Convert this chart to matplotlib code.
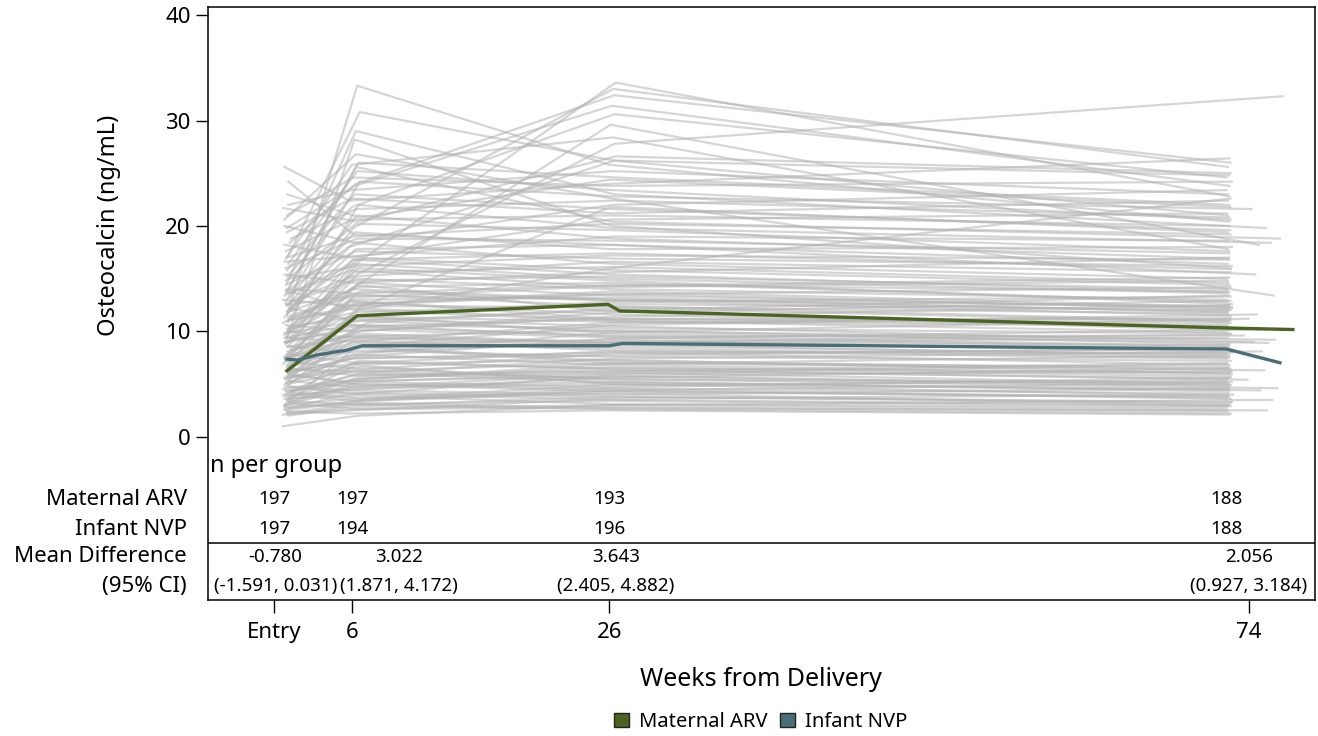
import matplotlib.pyplot as plt
from matplotlib.patches import Patch

plt.rcParams['font.family'] = ['Noto Sans', 'DejaVu Sans']

# individual trajectories: visit times (weeks) and osteocalcin values (ng/mL)
t_entry = [1.0, 0.8, 0.7, 1.2, 0.9, 1.1, 1.3, 0.8, 1.0, 0.9,
           1.2, 0.7, 1.1, 0.9, 1.0, 1.3, 0.8, 1.2, 1.0, 0.9,
           0.8, 1.1, 1.0, 1.2, 0.7, 0.9, 1.3, 1.0, 0.8, 1.1,
           1.0, 1.2, 0.9, 0.8, 1.1, 1.0, 0.7, 1.3, 0.9, 1.0,
           1.1, 0.8, 1.2, 1.0, 0.9, 1.1, 0.8, 1.3, 1.0, 0.7,
           0.9, 1.2, 1.0, 0.8, 1.1, 0.9, 1.3, 1.0, 0.8, 1.2,
           1.0, 0.9, 1.1, 0.7, 1.2, 1.0, 0.8, 1.1, 0.9, 1.3,
           1.0, 1.2, 0.8, 0.9, 1.1, 1.0, 0.7, 1.2, 0.9, 1.0,
           1.3, 0.8, 1.0, 1.1, 0.9, 1.2, 1.0, 0.8, 1.1, 0.9,
           1.0, 1.2, 0.9, 1.1, 0.8, 1.0, 1.3, 0.9, 1.0, 1.1,
           0.8, 1.2, 1.0, 0.9, 1.1, 0.7, 0.8, 1.0, 1.1, 1.2,
           0.9, 1.0, 1.1, 0.8, 1.2, 0.9, 1.0, 1.1, 0.9, 1.0,
           0.8, 1.1, 1.0, 1.2, 0.9, 1.0, 0.8, 1.1, 1.2, 0.9,
           1.0, 0.8, 1.3, 1.1, 0.9, 1.0, 1.2, 0.8, 1.0, 1.1,
           0.9, 1.2, 1.0, 0.8, 1.1, 0.9, 1.0, 1.2, 0.9, 1.0]
v_entry = [2.3, 2.8, 1.0, 3.2, 2.5, 3.6, 4.0, 2.9, 3.4, 4.4,
           3.8, 2.1, 4.8, 3.1, 5.0, 4.2, 2.6, 5.3, 3.5, 4.6,
           5.6, 2.7, 4.1, 5.9, 3.9, 6.2, 5.2, 6.5, 3.0, 6.0,
           6.8, 7.1, 5.5, 7.5, 6.3, 7.8, 4.5, 8.2, 7.3, 8.6,
           6.6, 9.0, 8.0, 5.8, 9.4, 7.0, 9.8, 8.4, 10.2, 6.9,
           10.6, 9.1, 11.0, 4.9, 11.4, 8.8, 10.0, 11.8, 7.6, 12.2,
           9.6, 12.6, 6.1, 13.0, 10.4, 8.1, 13.4, 11.2, 5.4, 12.9,
           14.0, 9.3, 7.4, 14.4, 12.0, 6.7, 10.8, 15.0, 8.9, 13.8,
           4.3, 15.4, 11.6, 9.9, 16.0, 3.3, 12.4, 16.6, 7.9, 14.8,
           17.0, 13.2, 17.6, 10.9, 18.2, 15.8, 18.8, 12.8, 19.4, 16.4,
           20.0, 14.2, 21.0, 13.6, 22.0, 21.7, 25.6, 14.6, 17.2, 12.3,
           9.0, 15.2, 8.6, 11.3, 18.4, 7.2, 19.8, 10.1, 16.9, 23.0,
           20.6, 24.2, 11.9, 6.4, 13.9, 2.4, 3.6, 2.0, 4.7, 3.0,
           5.7, 4.0, 6.4, 7.2, 5.1, 8.5, 6.1, 9.4, 7.7, 10.4,
           8.9, 11.1, 12.5, 9.7, 13.6, 3.8, 2.2, 5.9, 4.3, 10.0]

t_wk6 = [6.2, 5.8, 6.5, 6.0, 6.9, 5.6, 6.3, 6.1, 7.0, 5.9,
         6.4, 6.0, 5.7, 6.6, 6.2, 6.8, 5.5, 6.1, 6.3, 7.2,
         6.0, 5.8, 6.5, 6.2, 6.7, 5.9, 6.1, 6.4, 6.3, 5.6,
         6.2, 6.9, 6.0, 5.8, 6.4, 6.6, 6.1, 5.7, 6.3, 6.0,
         6.5, 6.2, 5.9, 7.1, 6.0, 6.3, 6.7, 5.8, 6.2, 6.4,
         6.1, 5.6, 6.3, 6.0, 6.8, 6.2, 5.9, 6.5, 6.1, 6.3,
         6.4, 6.0, 6.9, 5.8, 6.2, 6.6, 6.1, 5.7, 6.3, 6.0,
         6.2, 6.5, 5.9, 6.3, 6.1, 7.0, 6.0, 6.4, 5.8, 6.2,
         6.6, 6.1, 6.3, 5.9, 6.4, 6.0, 6.2, 6.8, 5.7, 6.3,
         6.1, 6.4, 6.0, 6.5, 5.9, 6.2, 6.3, 6.6, 6.0, 6.4,
         6.2, 6.5, 6.1, 6.3, 6.0, 6.4, 5.8, 6.3, 6.6, 6.4,
         6.2, 6.0, 6.5, 6.1, 6.3, 5.9, 6.2, 6.4, 6.0, 6.6,
         6.3, 6.1, 5.8, 6.5, 6.2, 6.0, 6.4, 5.9, 6.3, 6.1,
         6.7, 6.0, 6.2, 5.8, 6.4, 6.1, 6.3, 6.0, 6.5, 6.2,
         5.9, 6.3, 6.1, 6.6, 6.0, 6.2, 6.4, 5.8, 6.3, 6.1]
v_wk6 = [2.6, 3.1, 2.0, 2.7, 3.5, 4.2, 3.4, 4.8, 3.0, 5.0,
         5.6, 2.5, 4.1, 5.2, 6.3, 3.6, 4.0, 4.7, 6.8, 5.5,
         6.1, 3.3, 7.2, 5.0, 4.5, 6.9, 7.8, 5.8, 8.5, 7.4,
         8.2, 6.4, 9.0, 8.8, 10.4, 7.0, 9.8, 9.5, 11.2, 8.0,
         12.0, 10.2, 12.8, 10.8, 9.0, 13.5, 11.0, 13.0, 11.8, 14.4,
         10.0, 12.5, 12.2, 11.5, 13.8, 15.0, 9.4, 14.2, 12.6, 11.0,
         16.0, 14.8, 8.6, 12.4, 15.6, 10.0, 16.4, 13.2, 7.6, 15.2,
         13.6, 17.0, 9.2, 17.6, 16.8, 7.9, 14.0, 16.2, 11.4, 18.4,
         6.0, 14.6, 17.8, 12.9, 18.8, 5.4, 19.4, 17.2, 10.6, 20.2,
         19.0, 21.0, 20.6, 22.0, 17.0, 23.0, 21.6, 24.2, 22.6, 25.2,
         18.4, 26.0, 24.6, 25.6, 23.4, 20.4, 22.4, 29.0, 30.8, 33.3,
         28.2, 21.8, 16.6, 19.8, 24.0, 14.0, 23.8, 15.4, 25.8, 20.8,
         26.8, 19.2, 18.0, 12.2, 12.0, 2.2, 3.9, 2.9, 4.4, 3.6,
         6.6, 5.8, 6.2, 8.6, 7.0, 9.6, 7.5, 10.6, 9.4, 11.4,
         10.4, 12.4, 13.4, 14.6, 15.8, 4.6, 3.2, 5.2, 5.3, 16.8]

t_wk26 = [25.8, 26.0, 25.6, 26.2, 25.9, 26.1, 25.7, 26.3, 25.9, 26.0,
          26.1, 25.8, 26.4, 25.9, 26.0, 25.7, 26.2, 25.9, 26.1, 25.8,
          26.0, 26.3, 25.8, 26.1, 25.9, 26.0, 26.2, 25.7, 26.0, 26.1,
          25.9, 26.2, 26.0, 25.8, 26.1, 26.3, 25.9, 26.0, 25.8, 26.2,
          26.0, 25.9, 26.1, 26.4, 25.8, 26.0, 26.2, 25.9, 26.1, 25.7,
          26.0, 26.2, 25.9, 26.1, 25.8, 26.0, 26.3, 25.9, 26.1, 26.0,
          26.2, 25.8, 26.0, 26.1, 25.9, 26.2, 26.0, 25.8, 26.1, 25.9,
          26.0, 26.3, 25.7, 26.1, 26.0, 25.9, 26.2, 26.0, 25.8, 26.1,
          25.9, 26.0, 26.2, 25.8, 26.1, 26.0, 25.9, 26.3, 26.0, 26.1,
          25.9, 26.2, 26.0, 26.1, 25.8, 26.0, 26.2, 26.1, 25.9, 26.0,
          26.1, 26.2, 25.9, 26.0, 26.1, 26.3, 26.0, 26.2, 26.1, 25.8,
          26.0, 26.2, 26.3, 26.1, 26.2, 25.9, 26.0, 26.2, 26.1, 25.9,
          26.0, 26.1, 26.2, 25.9, 26.0, 25.8, 26.1, 26.0, 25.9, 26.2,
          26.0, 25.8, 26.1, 26.0, 25.9, 26.2, 26.0, 26.1, 25.8, 26.0,
          26.2, 25.9, 26.1, 26.0, 25.8, 26.0, 26.2, 25.9, 26.1, 26.0]
v_wk26 = [2.8, 3.4, 3.0, 3.0, 4.1, 3.8, 4.6, 5.2, 2.6, 4.3,
          6.1, 3.6, 3.5, 4.7, 5.5, 4.9, 5.8, 5.9, 5.0, 6.6,
          5.2, 4.4, 6.4, 4.5, 5.6, 7.3, 6.8, 6.2, 7.0, 8.0,
          7.6, 7.9, 8.4, 9.2, 9.6, 6.5, 8.9, 10.1, 10.5, 9.0,
          11.0, 9.4, 11.6, 12.2, 10.8, 12.4, 10.0, 13.2, 12.6, 11.9,
          11.4, 13.8, 11.1, 9.8, 12.9, 14.0, 8.6, 14.6, 13.5, 12.0,
          14.8, 15.2, 10.6, 13.6, 16.1, 11.8, 15.0, 14.3, 9.3, 16.6,
          14.4, 15.8, 8.2, 16.9, 17.4, 9.9, 13.0, 17.2, 12.8, 16.4,
          7.4, 15.6, 18.2, 11.2, 18.6, 6.9, 17.8, 19.0, 9.5, 19.6,
          20.2, 18.8, 21.0, 19.8, 20.6, 21.6, 22.4, 22.8, 21.2, 23.4,
          22.0, 24.6, 23.8, 20.4, 25.2, 26.6, 24.0, 23.0, 26.2, 25.8,
          20.0, 30.6, 33.6, 33.0, 32.4, 29.6, 31.4, 27.8, 28.4, 24.4,
          22.6, 18.2, 26.2, 21.8, 16.0, 2.5, 3.1, 3.8, 4.0, 4.3,
          5.4, 6.3, 7.0, 7.2, 8.1, 8.8, 7.7, 10.3, 9.0, 10.9,
          11.2, 12.3, 13.0, 13.4, 14.2, 5.0, 2.7, 6.0, 5.7, 15.4]

t_wk74 = [73.4, 73.6, 76.8, 73.3, 73.5, 73.7, 73.4, 75.9, 73.6, 73.3,
          73.5, 73.8, 73.4, 73.6, 77.2, 73.3, 73.5, 73.7, 73.4, 73.6,
          73.5, 73.3, 74.9, 73.6, 73.4, 73.5, 73.7, 73.3, 76.2, 73.5,
          73.6, 73.4, 73.5, 73.7, 73.3, 73.6, 73.4, 73.5, 75.4, 73.6,
          73.3, 73.5, 73.7, 73.4, 73.6, 73.5, 77.0, 73.3, 73.6, 73.4,
          73.5, 73.7, 73.4, 76.5, 73.6, 73.3, 73.5, 73.4, 73.6, 73.5,
          73.7, 73.3, 75.6, 73.5, 73.4, 73.6, 73.3, 73.5, 77.4, 73.6,
          73.4, 73.5, 73.3, 73.7, 73.6, 75.0, 73.4, 73.5, 73.6, 73.3,
          76.0, 73.5, 73.4, 73.6, 73.5, 73.3, 73.7, 73.4, 74.6, 73.5,
          73.6, 73.4, 73.5, 76.7, 73.3, 73.6, 73.5, 75.2, 73.4, 73.6,
          73.3, 73.5, 73.7, 77.4, 73.4, 73.6, 73.5, 76.3, 73.4, 73.5,
          73.6, 73.3, 73.5, 73.4, 73.6, 75.8, 73.5, 77.6, 73.4, 73.6,
          76.9, 75.5, 73.5, 73.4, 73.6, 73.5, 73.3, 73.6, 73.4, 73.5,
          73.7, 73.4, 73.5, 73.6, 73.3, 73.5, 73.4, 73.6, 73.5, 73.3,
          73.6, 73.4, 73.5, 73.7, 73.4, 73.5, 76.4, 73.4, 73.6, 73.5]
v_wk74 = [2.4, 2.9, 3.5, 2.6, 3.0, 3.3, 4.1, 4.4, 2.2, 3.7,
          5.0, 4.0, 3.0, 5.6, 4.6, 5.3, 4.8, 6.2, 3.9, 5.7,
          4.3, 5.1, 5.4, 3.6, 6.5, 6.0, 5.9, 7.0, 6.3, 6.8,
          7.2, 8.3, 7.5, 8.0, 8.6, 6.1, 9.4, 8.8, 9.0, 9.7,
          9.9, 8.5, 10.4, 10.9, 11.3, 11.0, 9.2, 11.8, 12.0, 10.1,
          12.5, 12.3, 10.6, 8.9, 11.5, 13.0, 7.8, 12.8, 14.2, 13.4,
          12.6, 14.0, 11.6, 12.1, 14.6, 12.9, 13.6, 15.1, 10.2, 15.6,
          13.8, 14.4, 7.4, 16.2, 15.9, 11.2, 11.9, 16.8, 13.3, 15.0,
          8.1, 17.0, 16.4, 10.8, 17.4, 7.7, 18.0, 18.6, 9.6, 17.6,
          19.2, 16.9, 20.0, 18.4, 21.2, 19.6, 20.8, 21.6, 22.4, 20.6,
          23.4, 22.0, 24.2, 18.8, 23.0, 25.0, 26.4, 19.8, 21.0, 20.4,
          16.0, 24.6, 22.8, 25.6, 26.0, 18.2, 23.8, 32.3, 17.8, 21.8,
          13.4, 15.4, 24.8, 19.4, 22.6, 2.1, 2.8, 3.2, 4.6, 3.8,
          5.2, 5.5, 6.6, 6.4, 7.9, 7.6, 8.4, 9.8, 8.7, 10.5,
          11.1, 11.7, 12.4, 12.2, 14.8, 4.5, 2.5, 6.9, 4.9, 13.7]

# group mean curves
arv_wk = [1.0, 6.4, 25.7, 26.6, 28.9, 73.5, 78.4]
arv_mean = [6.26, 11.48, 12.56, 11.93, 11.86, 10.31, 10.17]
nvp_wk = [1.0, 1.8, 3.3, 5.6, 6.8, 25.8, 26.8, 73.3, 77.4]
nvp_mean = [7.37, 7.27, 7.75, 8.22, 8.63, 8.63, 8.85, 8.32, 7.02]

# table below the plot
n_pos = [0, 6, 25.8, 73.3]
n_arv = [197, 197, 193, 188]
n_nvp = [197, 194, 196, 188]
diff_pos = [0.1, 9.6, 26.3, 75.0]
mean_diff = ['-0.780', '3.022', '3.643', '2.056']
diff_ci = ['(-1.591, 0.031)', '(1.871, 4.172)', '(2.405, 4.882)', '(0.927, 3.184)']

tick_pos = [0, 6, 25.8, 75.0]
tick_lab = ['Entry', '6', '26', '74']

arv_col = '#4c6421'
nvp_col = '#4a6e78'

fig = plt.figure(figsize=(13.18, 7.36), dpi=100)
ax = fig.add_axes([208 / 1318, 136 / 736, 1107 / 1318, 593 / 736])

for i in range(len(v_entry)):
    ax.plot([t_entry[i], t_wk6[i], t_wk26[i], t_wk74[i]],
            [v_entry[i], v_wk6[i], v_wk26[i], v_wk74[i]],
            color='#b4b4b4', alpha=0.55, lw=1.6, zorder=1)

ax.plot(arv_wk, arv_mean, color=arv_col, lw=2.4, zorder=3)
ax.plot(nvp_wk, nvp_mean, color=nvp_col, lw=2.4, zorder=3)

ax.set_xlim(-5.08, 80.1)
ax.set_ylim(-15.49, 40.77)
ax.set_yticks([0, 10, 20, 30, 40])
ax.set_xticks(tick_pos)
ax.set_xticklabels(tick_lab)
ax.tick_params(axis='both', labelsize=16, length=9, width=1)
ax.tick_params(axis='x', pad=7)
for s in ax.spines.values():
    s.set_linewidth(1.1)

ax.set_ylabel('Osteocalcin (ng/mL)', fontsize=17)
ax.yaxis.set_label_coords(-0.079, 0.632)

ax.axhline(-10.09, color='black', lw=1.1)

ax.text(-4.95, -2.78, 'n per group', fontsize=17, ha='left', va='center')
lab_x = -6.7
row_y = [-5.91, -8.76, -11.41, -14.17]
for txt, yy in zip(['Maternal ARV', 'Infant NVP', 'Mean Difference', '(95% CI)'], row_y):
    ax.text(lab_x, yy, txt, fontsize=16, ha='right', va='center', clip_on=False)
for x, a, b in zip(n_pos, n_arv, n_nvp):
    ax.text(x, row_y[0], str(a), fontsize=13.5, ha='center', va='center')
    ax.text(x, row_y[1], str(b), fontsize=13.5, ha='center', va='center')
for x, d, c in zip(diff_pos, mean_diff, diff_ci):
    ax.text(x, row_y[2], d, fontsize=13.5, ha='center', va='center')
    ax.text(x, row_y[3], c, fontsize=13.5, ha='center', va='center')

fig.text(761 / 1318, 1 - 680 / 736, 'Weeks from Delivery', fontsize=18,
         ha='center', va='center')

handles = [Patch(facecolor=arv_col, edgecolor='#222222', label='Maternal ARV'),
           Patch(facecolor=nvp_col, edgecolor='#222222', label='Infant NVP')]
fig.legend(handles=handles, loc='center', bbox_to_anchor=(761 / 1318, 1 - 722 / 736),
           ncol=2, frameon=False, fontsize=14.5, handlelength=0.75, handleheight=0.75,
           handletextpad=0.5, columnspacing=0.6)

fig.savefig('out.png', dpi=100)
